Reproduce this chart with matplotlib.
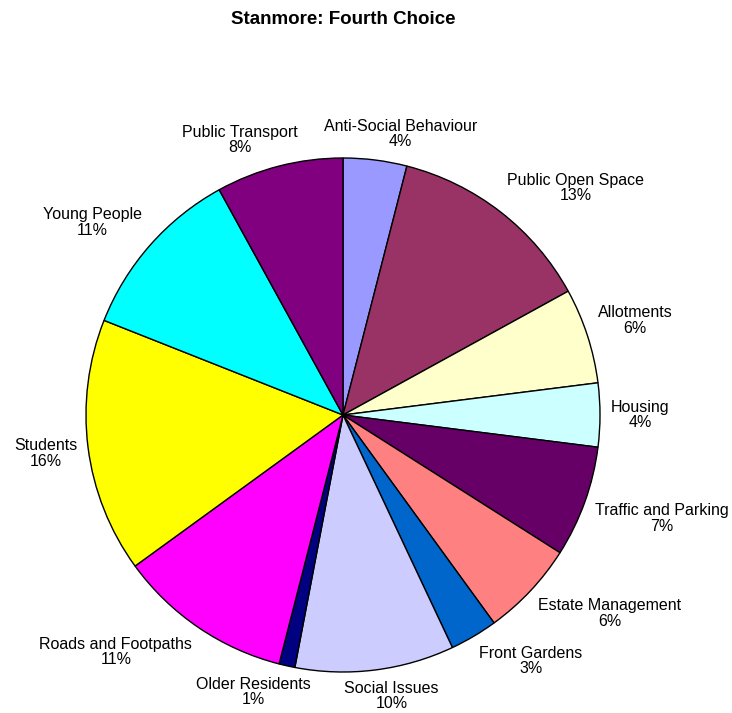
import numpy as np
import matplotlib
matplotlib.use("Agg")
import matplotlib.pyplot as plt

plt.rcParams['font.family'] = ['Liberation Sans', 'DejaVu Sans']

# Fourth-choice shares, clockwise from 12 o'clock
labels = ["Anti-Social Behaviour", "Public Open Space", "Allotments", "Housing",
          "Traffic and Parking", "Estate Management", "Front Gardens", "Social Issues",
          "Older Residents", "Roads and Footpaths", "Students", "Young People",
          "Public Transport"]
shares = [4, 13, 6, 4, 7, 6, 3, 10, 1, 11, 16, 11, 8]
colors = ["#9999FF", "#993366", "#FFFFCC", "#CCFFFF", "#660066", "#FF8080", "#0066CC",
          "#CCCCFF", "#000080", "#FF00FF", "#FFFF00", "#00FFFF", "#800080"]

W, H, DPI = 732, 713, 100
cx, cy, R = 343, 298, 257   # pie centre (from bottom) and radius, pixels

fig = plt.figure(figsize=(W / DPI, H / DPI), dpi=DPI)
ax = fig.add_axes([0, 0, 1, 1])

wedges, _ = ax.pie(shares, colors=colors, startangle=90, counterclock=False,
                   wedgeprops=dict(edgecolor="black", linewidth=1.0))
ax.set_xlim(-cx / R, (W - cx) / R)
ax.set_ylim(-cy / R, (H - cy) / R)
ax.set_aspect("auto")
ax.axis("off")

# place each label just outside its wedge, pushing the box away from the rim
fig.canvas.draw()
renderer = fig.canvas.get_renderer()
gap = 11 / R
total = sum(shares)
start = 0.0
for name, v in zip(labels, shares):
    mid = np.deg2rad((start + v / 2) / total * 360)
    start += v
    ux, uy = np.sin(mid), np.cos(mid)
    t = ax.text(0, 0, f"{name}\n{v}%", ha="center", va="center", fontsize=11.5,
                linespacing=1.05)
    bb = t.get_window_extent(renderer)
    hw, hh = bb.width / 2 / R, bb.height / 2 / R
    x = (1 + gap) * ux + hw * np.clip(2.5 * ux, -1, 1)
    y = (1 + gap) * uy + hh * np.clip(2.5 * uy, -1, 1)
    t.set_position((x, y))

fig.text(cx / W, 1 - 19 / H, "Stanmore: Fourth Choice", ha="center", va="center",
         fontsize=13.5, fontweight="bold")

fig.savefig("out.png", dpi=DPI)
